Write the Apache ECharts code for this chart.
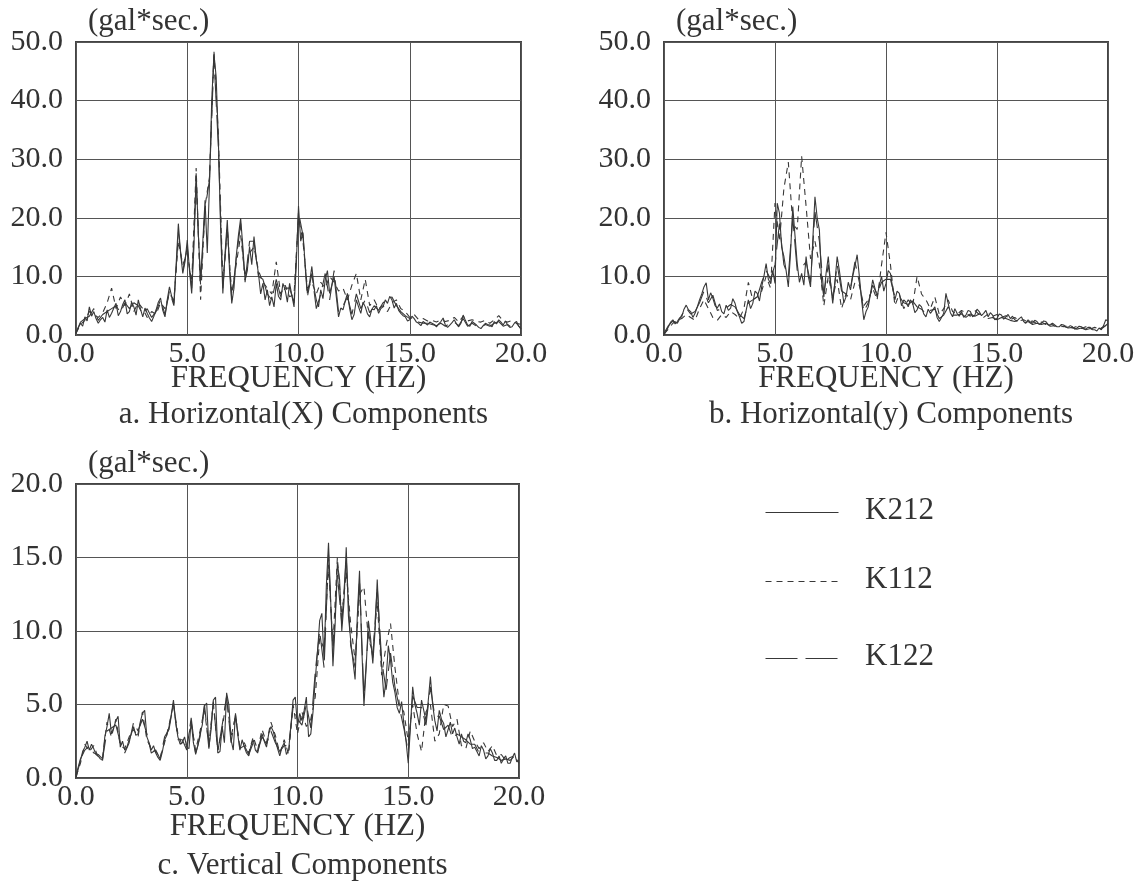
<!DOCTYPE html>
<html>
<head>
<meta charset="utf-8">
<script src="https://cdn.jsdelivr.net/npm/echarts@6/dist/echarts.min.js"></script>
<style>
  html, body { margin: 0; padding: 0; background: #fff; }
  #chart { width: 1147px; height: 882px; }
</style>
</head>
<body>
<div id="chart"></div>
<script>
// frequency samples (Hz): 0.1 Hz for K212, 0.2 Hz for the two other stations
var freqFine = [0.0, 0.1, 0.2, 0.3, 0.4, 0.5, 0.6, 0.7, 0.8, 0.9, 1.0, 1.1, 1.2, 1.3, 1.4, 1.5, 1.6, 1.7, 1.8, 1.9,
    2.0, 2.1, 2.2, 2.3, 2.4, 2.5, 2.6, 2.7, 2.8, 2.9, 3.0, 3.1, 3.2, 3.3, 3.4, 3.5, 3.6, 3.7, 3.8, 3.9,
    4.0, 4.1, 4.2, 4.3, 4.4, 4.5, 4.6, 4.7, 4.8, 4.9, 5.0, 5.1, 5.2, 5.3, 5.4, 5.5, 5.6, 5.7, 5.8, 5.9,
    6.0, 6.1, 6.2, 6.3, 6.4, 6.5, 6.6, 6.7, 6.8, 6.9, 7.0, 7.1, 7.2, 7.3, 7.4, 7.5, 7.6, 7.7, 7.8, 7.9,
    8.0, 8.1, 8.2, 8.3, 8.4, 8.5, 8.6, 8.7, 8.8, 8.9, 9.0, 9.1, 9.2, 9.3, 9.4, 9.5, 9.6, 9.7, 9.8, 9.9,
    10.0, 10.1, 10.2, 10.3, 10.4, 10.5, 10.6, 10.7, 10.8, 10.9, 11.0, 11.1, 11.2, 11.3, 11.4, 11.5, 11.6, 11.7, 11.8, 11.9,
    12.0, 12.1, 12.2, 12.3, 12.4, 12.5, 12.6, 12.7, 12.8, 12.9, 13.0, 13.1, 13.2, 13.3, 13.4, 13.5, 13.6, 13.7, 13.8, 13.9,
    14.0, 14.1, 14.2, 14.3, 14.4, 14.5, 14.6, 14.7, 14.8, 14.9, 15.0, 15.1, 15.2, 15.3, 15.4, 15.5, 15.6, 15.7, 15.8, 15.9,
    16.0, 16.1, 16.2, 16.3, 16.4, 16.5, 16.6, 16.7, 16.8, 16.9, 17.0, 17.1, 17.2, 17.3, 17.4, 17.5, 17.6, 17.7, 17.8, 17.9,
    18.0, 18.1, 18.2, 18.3, 18.4, 18.5, 18.6, 18.7, 18.8, 18.9, 19.0, 19.1, 19.2, 19.3, 19.4, 19.5, 19.6, 19.7, 19.8, 19.9, 20.0];
var freq = [0.0, 0.2, 0.4, 0.6, 0.8, 1.0, 1.2, 1.4, 1.6, 1.8, 2.0, 2.2, 2.4, 2.6, 2.8, 3.0, 3.2, 3.4, 3.6, 3.8,
    4.0, 4.2, 4.4, 4.6, 4.8, 5.0, 5.2, 5.4, 5.6, 5.8, 6.0, 6.2, 6.4, 6.6, 6.8, 7.0, 7.2, 7.4, 7.6, 7.8,
    8.0, 8.2, 8.4, 8.6, 8.8, 9.0, 9.2, 9.4, 9.6, 9.8, 10.0, 10.2, 10.4, 10.6, 10.8, 11.0, 11.2, 11.4, 11.6, 11.8,
    12.0, 12.2, 12.4, 12.6, 12.8, 13.0, 13.2, 13.4, 13.6, 13.8, 14.0, 14.2, 14.4, 14.6, 14.8, 15.0, 15.2, 15.4, 15.6, 15.8,
    16.0, 16.2, 16.4, 16.6, 16.8, 17.0, 17.2, 17.4, 17.6, 17.8, 18.0, 18.2, 18.4, 18.6, 18.8, 19.0, 19.2, 19.4, 19.6, 19.8, 20.0];

// a. Horizontal(X)
var xK212 = [0.3, 1.2, 2.0, 1.5, 3.1, 2.4, 4.8, 3.2, 4.0, 2.8, 2.0, 2.6, 3.0, 2.2, 4.3, 3.0, 3.7, 4.6, 5.4, 3.3,
    4.0, 5.2, 6.0, 3.6, 4.0, 5.6, 4.8, 3.4, 6.0, 4.4, 3.1, 4.6, 3.7, 2.9, 2.3, 3.2, 4.3, 5.6, 6.3, 4.2,
    3.1, 6.0, 8.2, 6.6, 5.4, 12.0, 19.0, 14.0, 10.5, 12.5, 16.2, 11.0, 7.1, 15.0, 27.6, 17.0, 9.4, 16.0, 23.0, 14.0,
    25.9, 40.0, 48.0, 44.0, 33.0, 18.0, 7.1, 14.0, 19.6, 11.0, 5.4, 8.0, 13.4, 17.0, 19.9, 15.0, 9.4, 11.0, 15.1, 12.0,
    16.8, 13.0, 10.5, 7.0, 8.8, 6.0, 7.7, 5.0, 6.5, 4.8, 8.8, 6.6, 6.0, 8.8, 7.7, 5.6, 8.8, 6.8, 4.8, 12.0,
    22.0, 16.0, 17.5, 12.0, 7.1, 9.0, 11.7, 8.0, 6.0, 4.8, 7.7, 6.2, 9.4, 11.0, 7.1, 8.5, 10.0, 6.5, 3.1, 4.6,
    4.3, 5.8, 7.1, 4.5, 2.6, 3.5, 6.0, 4.8, 3.7, 5.6, 4.8, 3.6, 3.1, 4.4, 4.3, 5.0, 3.7, 4.5, 4.8, 6.0,
    5.4, 6.6, 6.0, 4.6, 5.4, 4.2, 3.7, 3.3, 3.1, 2.4, 2.6, 3.2, 2.8, 2.2, 2.0, 1.6, 2.3, 2.0, 1.7, 2.2,
    2.0, 1.8, 1.4, 1.9, 2.3, 2.9, 1.7, 1.3, 1.7, 2.1, 2.6, 1.9, 1.4, 2.0, 3.4, 2.5, 1.7, 1.5, 2.3, 2.0,
    1.7, 1.3, 1.1, 1.6, 2.0, 1.8, 1.7, 1.4, 2.3, 1.9, 2.6, 2.2, 1.7, 2.4, 1.7, 1.3, 1.4, 2.0, 2.3, 1.5, 1.1];
var xK112 = [0.3, 1.8, 2.5, 4.0, 3.5, 3.0, 3.8, 5.5, 8.0, 4.5, 6.5, 5.0, 7.0, 4.0, 5.5, 4.5, 3.0, 4.0, 3.5, 5.5,
    4.5, 7.0, 6.0, 16.0, 12.0, 14.0, 9.0, 28.5, 6.0, 22.0, 27.0, 48.5, 34.0, 9.0, 18.0, 7.0, 12.0, 17.0, 10.0, 14.0,
    15.0, 11.0, 9.0, 8.0, 7.0, 12.5, 7.0, 8.5, 6.5, 7.0, 20.0, 16.0, 8.0, 9.0, 7.0, 9.0, 8.0, 10.0, 9.0, 7.5,
    8.0, 6.0, 8.5, 10.5, 6.0, 9.5, 5.0, 6.0, 4.5, 5.0, 4.0, 5.5, 6.0, 4.5, 4.0, 3.0, 3.5, 2.6, 2.8, 2.4,
    2.5, 2.2, 2.6, 2.3, 2.5, 3.0, 2.2, 3.2, 2.4, 2.6, 2.3, 2.2, 2.5, 2.0, 2.6, 3.3, 2.4, 2.2, 2.5, 2.0, 1.8];
var xK122 = [0.4, 2.2, 2.8, 3.2, 4.5, 2.5, 3.5, 4.0, 4.5, 5.0, 3.8, 5.5, 4.5, 5.5, 5.0, 3.5, 4.5, 3.0, 4.0, 6.0,
    3.5, 7.5, 5.0, 17.5, 11.0, 15.0, 8.0, 26.0, 8.5, 21.5, 26.5, 47.5, 32.0, 8.0, 18.5, 6.0, 13.0, 19.0, 9.0, 16.0,
    16.0, 10.0, 9.5, 7.0, 6.0, 9.5, 6.5, 8.0, 8.0, 5.5, 21.0, 17.0, 6.5, 10.5, 4.5, 7.0, 10.5, 6.0, 11.0, 4.0,
    5.0, 6.5, 3.5, 7.0, 4.5, 6.0, 3.8, 5.0, 4.2, 5.5, 6.0, 6.5, 5.0, 4.0, 3.3, 2.8, 3.0, 2.2, 2.0, 2.0,
    1.8, 1.6, 2.0, 1.5, 2.0, 2.2, 1.6, 2.8, 1.5, 2.0, 1.5, 1.3, 1.8, 1.5, 2.0, 2.3, 1.5, 1.8, 1.2, 2.0, 1.0];

// b. Horizontal(y)
var yK212 = [0.0, 0.7, 1.4, 2.2, 2.6, 1.9, 2.3, 2.9, 3.1, 4.4, 5.1, 4.3, 4.0, 3.0, 3.7, 4.8, 6.0, 7.0, 8.2, 8.9,
    6.0, 7.2, 6.3, 5.0, 4.6, 5.3, 4.0, 3.6, 5.1, 4.2, 4.6, 6.2, 5.4, 4.0, 3.1, 2.0, 2.3, 4.2, 6.0, 4.5,
    5.4, 7.5, 7.1, 5.8, 8.2, 10.0, 12.2, 9.5, 8.8, 11.0, 8.8, 22.5, 20.8, 15.0, 13.4, 11.0, 8.2, 14.0, 21.9, 17.0,
    12.2, 9.0, 10.5, 8.5, 13.4, 10.0, 8.2, 16.0, 23.6, 20.0, 17.9, 9.0, 6.5, 10.5, 13.4, 9.0, 5.4, 9.0, 13.4, 11.0,
    8.2, 5.5, 6.5, 9.0, 7.7, 10.0, 11.7, 13.7, 10.0, 6.0, 2.6, 4.0, 4.8, 7.0, 9.4, 8.0, 6.5, 8.5, 10.0, 7.5,
    8.8, 11.0, 10.5, 8.0, 6.0, 7.5, 7.1, 5.0, 6.0, 5.6, 4.8, 6.0, 5.4, 3.8, 4.3, 5.2, 4.8, 3.6, 3.1, 4.4,
    3.7, 4.2, 4.8, 3.0, 2.3, 3.0, 3.7, 7.1, 5.4, 3.8, 3.1, 4.5, 3.7, 3.2, 4.0, 3.0, 3.4, 4.2, 4.0, 3.1,
    3.4, 4.4, 4.0, 3.3, 3.7, 4.2, 3.1, 3.8, 3.4, 2.6, 2.8, 3.6, 3.4, 2.7, 3.1, 3.5, 2.8, 3.2, 2.6, 2.4,
    2.8, 3.1, 2.3, 2.0, 2.6, 2.2, 2.0, 2.5, 2.3, 1.8, 2.0, 2.4, 2.3, 1.8, 1.7, 2.0, 1.7, 1.4, 1.4, 1.8,
    1.7, 1.4, 1.3, 1.6, 1.4, 1.0, 1.2, 1.5, 1.4, 1.1, 1.0, 1.3, 1.3, 0.9, 0.9, 0.7, 1.2, 0.9, 1.6, 2.6, 2.4];
var yK112 = [0.2, 1.0, 2.0, 2.5, 2.8, 3.5, 3.0, 2.5, 4.5, 6.0, 4.5, 3.0, 2.5, 3.5, 3.0, 4.0, 3.5, 2.8, 4.5, 9.0,
    6.0, 6.5, 7.5, 10.0, 8.0, 22.5, 16.0, 25.0, 29.5, 19.0, 18.0, 30.5, 22.0, 13.0, 16.0, 12.0, 5.0, 10.0, 6.5, 9.5,
    4.5, 7.0, 6.0, 9.0, 8.5, 5.0, 6.0, 8.0, 6.0, 12.0, 17.5, 12.0, 5.0, 7.0, 4.5, 6.0, 5.0, 10.0, 7.0, 6.0,
    4.5, 6.5, 3.5, 4.5, 6.0, 4.0, 3.5, 4.2, 3.8, 3.2, 4.2, 3.5, 3.0, 3.6, 3.2, 3.5, 3.0, 3.3, 2.6, 3.0,
    2.4, 2.6, 2.2, 2.4, 1.9, 2.2, 1.8, 2.0, 1.5, 1.7, 1.4, 1.6, 1.2, 1.5, 1.1, 1.4, 1.0, 1.3, 1.0, 1.4, 1.8];
var yK122 = [0.3, 1.6, 2.4, 2.0, 3.4, 4.6, 3.6, 4.0, 5.5, 7.5, 5.5, 6.8, 4.2, 4.5, 4.6, 5.2, 4.8, 3.5, 2.8, 5.5,
    6.0, 6.5, 9.0, 11.0, 9.5, 12.0, 19.0, 12.0, 10.0, 20.0, 11.0, 11.5, 12.5, 9.0, 21.0, 16.0, 7.0, 12.0, 6.0, 12.0,
    7.5, 7.0, 8.0, 12.5, 9.0, 4.0, 5.5, 8.5, 7.0, 9.0, 9.5, 9.5, 6.5, 6.5, 5.5, 5.2, 5.8, 4.8, 4.4, 3.6,
    4.2, 4.4, 2.8, 3.4, 4.8, 3.4, 3.4, 3.6, 3.0, 3.6, 3.2, 3.6, 3.4, 2.8, 3.0, 2.6, 3.0, 2.8, 2.5, 2.3,
    2.5, 2.0, 2.3, 1.8, 2.0, 1.8, 2.0, 1.5, 1.6, 1.3, 1.5, 1.2, 1.3, 1.0, 1.2, 0.9, 1.1, 0.8, 1.0, 1.3, 2.0];

// c. Vertical
var zK212 = [0.0, 0.6, 1.2, 1.8, 2.1, 2.5, 1.9, 2.3, 2.0, 1.6, 1.5, 1.3, 1.2, 2.8, 3.5, 4.4, 3.0, 3.4, 3.9, 4.2,
    2.1, 2.5, 1.9, 2.1, 2.6, 3.0, 3.5, 2.9, 3.0, 3.8, 4.4, 4.6, 2.8, 2.4, 1.9, 2.2, 1.7, 1.4, 1.2, 1.8,
    2.6, 2.9, 3.5, 4.3, 5.3, 3.8, 2.8, 2.3, 2.4, 2.8, 2.1, 2.0, 3.9, 2.4, 1.7, 2.2, 3.0, 3.6, 4.9, 5.1,
    2.1, 3.3, 5.3, 5.5, 1.7, 1.8, 3.5, 2.4, 5.8, 5.0, 2.6, 1.9, 4.4, 3.0, 1.9, 2.6, 2.1, 1.7, 1.5, 2.2,
    2.6, 1.9, 1.7, 2.4, 3.0, 2.5, 2.1, 3.0, 3.5, 3.2, 2.6, 2.0, 1.5, 2.1, 2.4, 1.6, 1.9, 3.5, 5.3, 5.5,
    3.5, 4.4, 3.9, 4.6, 5.5, 2.8, 3.0, 4.5, 6.7, 8.5, 10.7, 11.2, 8.0, 13.0, 16.0, 12.0, 7.6, 10.5, 14.6, 13.5,
    10.0, 12.0, 15.7, 11.0, 9.4, 8.0, 6.7, 11.0, 14.1, 9.0, 4.9, 7.5, 10.7, 9.5, 7.8, 10.0, 13.5, 10.0, 7.6, 5.5,
    6.7, 9.0, 8.0, 6.5, 5.8, 4.8, 4.4, 5.2, 3.7, 2.5, 1.0, 3.5, 6.2, 5.0, 4.4, 3.6, 5.3, 4.6, 3.9, 5.2,
    6.9, 5.0, 3.9, 3.2, 4.6, 4.0, 3.7, 2.8, 3.3, 3.8, 3.0, 3.4, 2.8, 2.3, 3.0, 2.5, 2.4, 3.0, 2.6, 2.0,
    2.1, 1.8, 1.5, 2.2, 1.9, 1.3, 1.5, 2.0, 1.7, 1.2, 1.2, 1.5, 1.0, 1.3, 1.5, 1.0, 1.0, 1.4, 1.7, 1.1, 1.2];
var zK112 = [0.1, 1.0, 2.3, 1.8, 2.2, 1.4, 1.4, 3.8, 2.8, 4.0, 2.2, 2.0, 2.8, 3.3, 2.8, 4.5, 2.6, 2.0, 1.8, 1.4,
    2.4, 3.6, 5.0, 3.0, 2.2, 2.3, 3.7, 1.9, 3.2, 4.6, 2.3, 5.1, 1.9, 3.3, 5.5, 2.8, 4.2, 2.1, 2.4, 1.7,
    2.8, 1.9, 3.3, 2.4, 3.8, 2.9, 1.7, 2.6, 1.6, 5.0, 3.0, 4.5, 3.5, 4.0, 5.5, 9.5, 8.8, 14.5, 9.0, 15.0,
    11.0, 14.0, 10.5, 8.0, 12.5, 13.0, 9.5, 8.5, 12.0, 7.0, 9.0, 10.5, 7.5, 5.0, 4.5, 2.5, 5.0, 3.0, 1.8, 4.5,
    5.0, 2.5, 3.0, 5.0, 4.9, 3.5, 4.0, 2.2, 2.0, 3.2, 2.5, 2.0, 2.4, 1.8, 2.2, 1.5, 1.6, 1.2, 1.4, 1.5, 1.0];
var zK122 = [0.2, 1.3, 1.9, 2.2, 1.7, 1.6, 1.3, 3.2, 3.4, 3.6, 2.4, 1.7, 2.4, 3.8, 3.2, 4.0, 3.0, 1.7, 1.9, 1.3,
    2.8, 3.3, 5.1, 2.6, 2.6, 1.9, 4.1, 1.6, 2.8, 5.0, 2.0, 5.2, 1.8, 3.6, 5.6, 2.4, 4.3, 2.0, 2.2, 1.6,
    2.4, 1.8, 2.8, 2.3, 3.2, 2.4, 1.8, 2.2, 2.2, 4.8, 4.0, 3.6, 5.0, 3.4, 7.2, 10.0, 7.5, 15.2, 8.5, 13.8,
    10.5, 15.0, 9.0, 7.5, 13.5, 5.5, 10.0, 8.2, 13.0, 8.0, 6.0, 8.5, 6.2, 4.8, 3.4, 1.8, 5.6, 4.8, 4.8, 3.6,
    6.2, 4.2, 4.2, 3.3, 3.6, 2.7, 3.0, 2.8, 2.6, 2.3, 2.3, 1.7, 1.7, 1.7, 1.5, 1.4, 1.2, 1.3, 1.2, 1.5, 1.4];

var seriesNames = ['K212', 'K112', 'K122'];
var xTicks = [0, 5, 10, 15, 20];
var panelTitles = ['a. Horizontal(X) Components', 'b. Horizontal(y) Components', 'c. Vertical Components'];
var unitLabel = '(gal*sec.)';
var freqLabel = 'FREQUENCY (HZ)';

var FONT = "'Liberation Serif', 'DejaVu Serif', serif";
var INK = '#333';
var LINE = '#383838';
var dashes = { K212: null, K112: [6, 5], K122: [32, 8] };

function pair(xs, ys) {
    return xs.map(function (f, i) { return [f, ys[i]]; });
}

var chart = echarts.init(document.getElementById('chart'), null, { renderer: 'canvas' });

var grids = [
    { left: 76, top: 42, width: 445, height: 293 },
    { left: 664, top: 42, width: 444, height: 293 },
    { left: 76, top: 484, width: 443, height: 294 }
];
var yMax = [50, 50, 20];
var yStep = [10, 10, 5];
var nameGaps = [28, 28, 33];
var titleTops = [394, 394, 845];
var panelData = [[xK212, xK112, xK122], [yK212, yK112, yK122], [zK212, zK112, zK122]];

// hand-drawn key in the empty lower right quarter
var keyRows = [510, 579, 656];
var keyGraphics = [];
seriesNames.forEach(function (n, i) {
    keyGraphics.push({
        type: 'line', left: 763, top: keyRows[i], silent: true,
        shape: { x1: 0, y1: 0, x2: 73, y2: 0 },
        style: { stroke: LINE, lineWidth: 1.2, lineDash: dashes[n] }
    });
    keyGraphics.push({
        type: 'text', left: 865, top: keyRows[i] - 15, silent: true,
        style: { text: n, font: '31px ' + FONT, fill: INK }
    });
});

var option = {
    backgroundColor: '#fff',
    animation: false,
    textStyle: { fontFamily: FONT, color: INK },
    grid: grids.map(function (g) {
        return Object.assign({ show: true, borderColor: '#444', borderWidth: 2, outerBoundsMode: 'none' }, g);
    }),
    xAxis: grids.map(function (g, k) {
        return {
            type: 'value', gridIndex: k, min: xTicks[0], max: xTicks[xTicks.length - 1], interval: 5,
            name: freqLabel, nameLocation: 'middle', nameGap: nameGaps[k], nameMoveOverlap: false,
            nameTextStyle: { fontFamily: FONT, fontSize: 31, color: INK },
            axisLine: { show: false }, axisTick: { show: false },
            axisLabel: { fontFamily: FONT, fontSize: 30, color: INK, margin: 4,
                formatter: function (v) { return v.toFixed(1); } },
            splitLine: { show: true, lineStyle: { color: '#555', width: 1 } }
        };
    }),
    yAxis: grids.map(function (g, k) {
        return {
            type: 'value', gridIndex: k, min: 0, max: yMax[k], interval: yStep[k],
            name: unitLabel, nameLocation: 'end', nameGap: 5,
            nameTextStyle: { fontFamily: FONT, fontSize: 31, color: INK, align: 'left', padding: [0, 0, 0, 12] },
            axisLine: { show: false }, axisTick: { show: false },
            axisLabel: { fontFamily: FONT, fontSize: 30, color: INK, margin: 13,
                formatter: function (v) { return v.toFixed(1); } },
            splitLine: { show: true, lineStyle: { color: '#555', width: 1 } }
        };
    }),
    title: panelTitles.map(function (t, k) {
        return {
            text: t, left: grids[k].left + grids[k].width / 2, top: titleTops[k],
            textAlign: 'center',
            textStyle: { fontFamily: FONT, fontSize: 31, fontWeight: 'normal', color: INK }
        };
    }),
    graphic: keyGraphics,
    series: []
};

panelData.forEach(function (set, k) {
    set.forEach(function (ys, i) {
        var xs = i === 0 ? freqFine : freq;
        option.series.push({
            type: 'line', name: seriesNames[i], xAxisIndex: k, yAxisIndex: k,
            data: pair(xs, ys), showSymbol: false, symbol: 'none', silent: true,
            lineStyle: { color: LINE, width: 1.1, type: dashes[seriesNames[i]] || 'solid' },
            itemStyle: { color: LINE }
        });
    });
});

chart.setOption(option);
</script>
</body>
</html>
